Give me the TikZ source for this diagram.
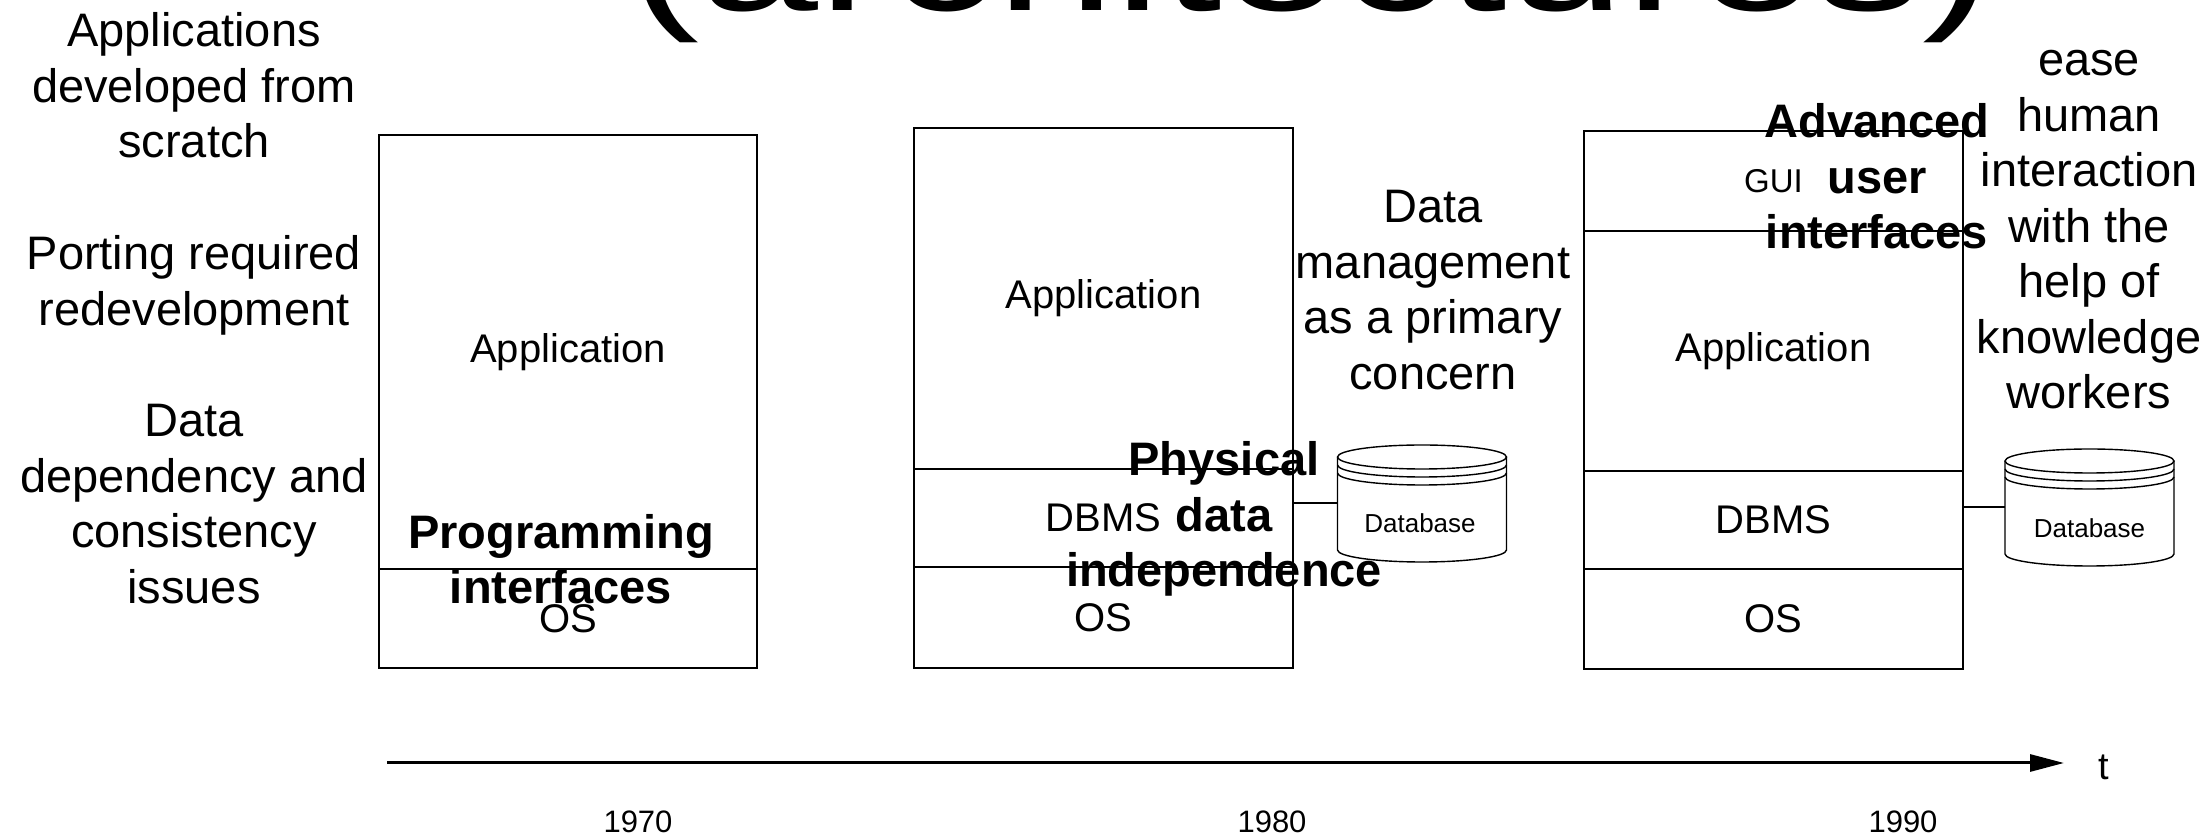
\documentclass[tikz,border=0pt]{standalone}
\usepackage{fontspec}
\usepackage{graphicx}
\setmainfont{Liberation Sans}
\usetikzlibrary{arrows.meta}
\begin{document}
\begin{tikzpicture}[x=0.5pt,y=-0.5pt,
  layer/.style={draw, line width=1pt, inner sep=0pt, minimum width=189.5pt,
    font=\fontsize{20pt}{24pt}\selectfont},
  side/.style={inner sep=0pt, align=center, font=\fontsize{23.5pt}{27.75pt}\selectfont},
  note/.style={inner sep=0pt, align=center, font=\fontsize{23.5pt}{27.75pt}\selectfont\bfseries},
  dbline/.style={line width=0.7pt},
  dbbox/.style={inner sep=0pt, minimum width=84.5pt, minimum height=58.5pt},
  dblabel/.style={inner sep=0pt, anchor=base, font=\fontsize{13pt}{15pt}\selectfont},
  yearlbl/.style={inner sep=0pt, anchor=base, font=\fontsize{15.5pt}{18pt}\selectfont},
  link/.style={line width=1pt},
  axisline/.style={line width=1.5pt, -{Triangle[length=17pt,width=8.5pt]}}
]
\fill[white] (0,0) rectangle (2212,838);
\useasboundingbox (0,0) rectangle (2212,838);

% title (cut off at the top)
\node[inner sep=0pt, anchor=base, font=\fontsize{78pt}{90pt}\selectfont] (title)
  at (1311,11) {\scalebox{1.37}[1]{(architectures)}};

% left remarks
\node[side] (r1) at (194,85.5) {Applications\\developed from\\scratch};
\node[side] (r2) at (194,285.6) {Porting required\\redevelopment};
\node[side] (r3) at (194,504) {Data\\dependency and\\consistency\\issues};

% 1970 stack
\node[layer, minimum width=189pt, minimum height=217pt] (b1app) at (568,352) {Application};
\node[layer, minimum width=189pt, minimum height=49.5pt] (b1os) at (568,618.5) {OS};

% 1980 stack
\node[layer, minimum height=170.5pt] (b2app) at (1103.5,298.5) {Application};
\node[layer, minimum height=49pt] (b2db) at (1103.5,518) {DBMS};
\node[layer, minimum height=50.5pt] (b2os) at (1103.5,617.5) {OS};

% 1990 stack
\node[layer, minimum height=50pt, font=\fontsize{16.5pt}{20pt}\selectfont] (b3gui) at (1773.5,181) {GUI};
\node[layer, minimum height=120pt] (b3app) at (1773.5,351) {Application};
\node[layer, minimum height=49pt] (b3db) at (1773.5,520) {DBMS};
\node[layer, minimum height=50pt] (b3os) at (1773.5,619) {OS};

% databases
\node[dbbox] (db1) at (1422,503.5) {};
\draw[dbline] (1337.5,457) -- (1337.5,550)
  arc[start angle=180,end angle=360,x radius=42.25pt,y radius=6pt] -- (1506.5,457);
\draw[dbline] (1422,457) ellipse [x radius=42.25pt, y radius=6pt];
\draw[dbline] (1337.5,465) arc[start angle=180,end angle=360,x radius=42.25pt,y radius=6pt];
\draw[dbline] (1337.5,473) arc[start angle=180,end angle=360,x radius=42.25pt,y radius=6pt];
\node[dblabel] (db1lbl) at (1420,533) {Database};

\node[dbbox] (db2) at (2089.5,507.5) {};
\draw[dbline] (2005,461) -- (2005,554)
  arc[start angle=180,end angle=360,x radius=42.25pt,y radius=6pt] -- (2174,461);
\draw[dbline] (2089.5,461) ellipse [x radius=42.25pt, y radius=6pt];
\draw[dbline] (2005,469) arc[start angle=180,end angle=360,x radius=42.25pt,y radius=6pt];
\draw[dbline] (2005,477) arc[start angle=180,end angle=360,x radius=42.25pt,y radius=6pt];
\node[dblabel] (db2lbl) at (2089.5,538) {Database};

% connectors
\draw[link] (b2db.east |- db1.west) -- (db1.west);
\draw[link] (b3db.east |- db2.west) -- (db2.west);

% notes
\node[note] (n1) at (561,559) {Programming\\interfaces};
\node[note] (n2) at (1224,519) {Physical\\data\\independence};
\node[side] (n3) at (1433,290) {Data\\management\\as a primary\\concern};
\node[note] (n4) at (1877,176.5) {Advanced\\user\\interfaces};
\node[side] (n5) at (2089,230) {ease\\human\\interaction\\with the\\help of\\knowledge\\workers};

% time axis
\coordinate (axs) at (387,763);
\coordinate (axe) at (2064,763);
\draw[axisline] (axs) -- (axe);
\node[inner sep=0pt, anchor=base, font=\fontsize{19pt}{22pt}\selectfont] (tlbl) at (2104,780) {t};
\node[yearlbl] (y1) at (638,833) {1970};
\node[yearlbl] (y2) at (1272,833) {1980};
\node[yearlbl] (y3) at (1903,833) {1990};
\end{tikzpicture}
\end{document}
